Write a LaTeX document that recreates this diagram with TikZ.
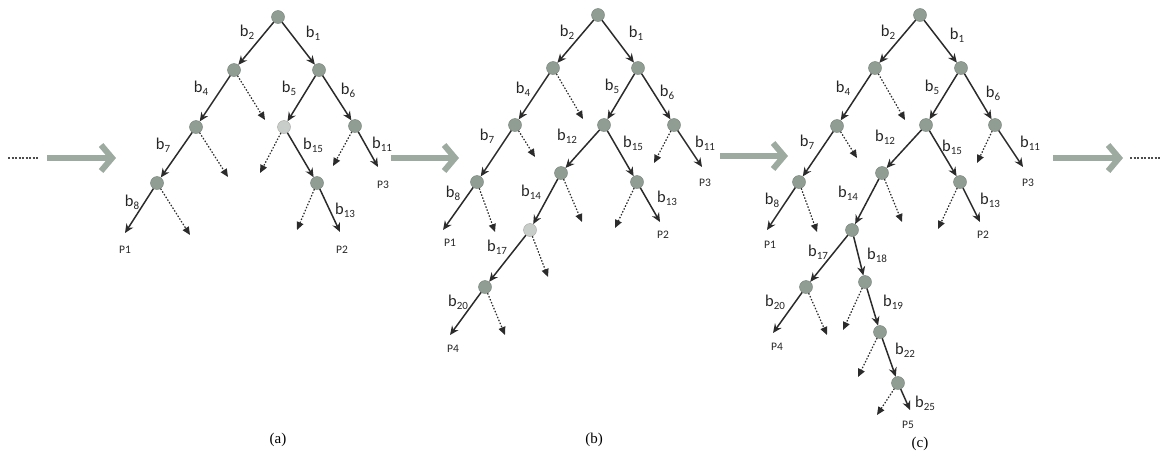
\documentclass[tikz,border=0pt]{standalone}
\usepackage{fontspec}
\setmainfont{Carlito}
\newfontfamily\capfont{Liberation Serif}
\usetikzlibrary{arrows.meta}
\definecolor{bigarr}{HTML}{9DAA9F}
\definecolor{ndfill}{HTML}{8F9D92}
\definecolor{ndlight}{HTML}{C9CDC9}
\definecolor{edgecol}{HTML}{2B2B2B}
\newcommand\bsub[1]{b\raisebox{-0.35ex}{\fontsize{11}{11}\selectfont #1}}
\newcommand\Nd[3]{\node[nd] (#1) at (#2,#3) {};}
\newcommand\Lb[4]{\node[lb] (#1) at (#2,#3) {\bsub{#4}};}
\tikzset{
 nd/.style={circle,fill=ndfill,draw=ndfill!80!black,line width=0.4pt,minimum size=13pt,inner sep=0pt},
 ndl/.style={nd,fill=ndlight,draw=ndlight!80!black},
 sol/.style={draw=edgecol,line width=1.5pt,-{Stealth[length=9pt,width=8pt]}},
 dotarr/.style={draw=edgecol,line width=1.2pt,dash pattern=on 1.5pt off 1.7pt,-{Triangle[length=8pt,width=7pt]}},
 lb/.style={font=\fontsize{16.5}{16.5}\selectfont,text=black!85,inner sep=0pt},
 pl/.style={font=\fontsize{11.5}{11.5}\selectfont,text=black!85,inner sep=0pt},
 captxt/.style={font=\capfont\fontsize{15}{15}\selectfont,inner sep=0pt},
 bigarrow/.style={draw=bigarr,line width=6pt,-{Straight Barb[length=11pt,width=26pt]}},
 bigdots/.style={draw=black!70,line width=2pt,dash pattern=on 2pt off 1.5pt}
}
\begin{document}
\begin{tikzpicture}[x=1pt,y=-1pt]
\useasboundingbox (0,0) rectangle (1161,461);
% ---------- big arrows ----------
\coordinate (d1s) at (8,158); \coordinate (d1e) at (38,158);
\coordinate (g1s) at (47,158); \coordinate (g1e) at (116,158);
\coordinate (g2s) at (391,158); \coordinate (g2e) at (459,158);
\coordinate (g3s) at (720,156); \coordinate (g3e) at (788,156);
\coordinate (g4s) at (1053,158); \coordinate (g4e) at (1123,158);
\coordinate (d2s) at (1130,158); \coordinate (d2e) at (1162,158);
\draw[bigdots] (d1s) -- (d1e);
\draw[bigdots] (d2s) -- (d2e);
\draw[bigarrow] (g1s) -- (g1e);
\draw[bigarrow] (g2s) -- (g2e);
\draw[bigarrow] (g3s) -- (g3e);
\draw[bigarrow] (g4s) -- (g4e);
% ---------- tree (a) ----------
\Nd{aR}{278}{17}
\Nd{aL}{234}{70}
\Nd{aRt}{319}{70}
\Nd{aB4}{196}{127}
\node[ndl] (aB5) at (284,127) {};
\Nd{aB6}{355}{126}
\Nd{aB7}{157}{183}
\Nd{aB15}{317}{183}
\coordinate (aLd) at (265,120);
\coordinate (aB4d) at (228,177);
\coordinate (aB5d) at (260,173);
\coordinate (aB6d) at (333,166);
\coordinate (aB7d) at (190,235);
\coordinate (aB15d) at (297,230);
\coordinate (aE11) at (378,167);
\coordinate (aE8) at (125,233);
\coordinate (aE13) at (340,232);
\draw[sol] (aR) -- (aL);
\draw[sol] (aR) -- (aRt);
\draw[sol] (aL) -- (aB4);
\draw[sol] (aRt) -- (aB5);
\draw[sol] (aRt) -- (aB6);
\draw[sol] (aB4) -- (aB7);
\draw[sol] (aB5) -- (aB15);
\draw[sol] (aB6) -- (aE11);
\draw[sol] (aB7) -- (aE8);
\draw[sol] (aB15) -- (aE13);
\draw[dotarr] (aL) -- (aLd);
\draw[dotarr] (aB4) -- (aB4d);
\draw[dotarr] (aB5) -- (aB5d);
\draw[dotarr] (aB6) -- (aB6d);
\draw[dotarr] (aB7) -- (aB7d);
\draw[dotarr] (aB15) -- (aB15d);
\Lb{al2}{247}{32}{2}
\Lb{al1}{313}{33}{1}
\Lb{al4}{201}{88}{4}
\Lb{al5}{289}{88}{5}
\Lb{al6}{348}{90}{6}
\Lb{al7}{163}{145}{7}
\Lb{al15}{313}{145}{15}
\Lb{al11}{382}{144}{11}
\Lb{al8}{132}{202}{8}
\Lb{al13}{345}{210}{13}
\node[pl] (aP3) at (383,185) {P3};
\node[pl] (aP1) at (125,250) {P1};
\node[pl] (aP2) at (342,250) {P2};
\node[captxt] (capa) at (278,440) {(a)};
% ---------- tree (b) ----------
\Nd{bR}{598}{15}
\Nd{bL}{553}{68}
\Nd{bRt}{638}{68}
\Nd{bB4}{515}{125}
\Nd{bB5}{604}{125}
\Nd{bB6}{674}{125}
\Nd{bB7}{477}{182}
\Nd{bB12}{561}{173}
\Nd{bB15}{637}{182}
\node[ndl] (bB14) at (530,230) {};
\Nd{bB17}{485}{287}
\coordinate (bLd) at (583,119);
\coordinate (bB4d) at (535,157);
\coordinate (bB6d) at (654,163);
\coordinate (bB7d) at (495,232);
\coordinate (bB12d) at (582,222);
\coordinate (bB15d) at (615,228);
\coordinate (bB14d) at (548,277);
\coordinate (bB17d) at (505,335);
\coordinate (bE11) at (702,167);
\coordinate (bE8) at (443,230);
\coordinate (bE13) at (660,222);
\coordinate (bE20) at (450,335);
\draw[sol] (bR) -- (bL);
\draw[sol] (bR) -- (bRt);
\draw[sol] (bL) -- (bB4);
\draw[sol] (bRt) -- (bB5);
\draw[sol] (bRt) -- (bB6);
\draw[sol] (bB4) -- (bB7);
\draw[sol] (bB5) -- (bB12);
\draw[sol] (bB5) -- (bB15);
\draw[sol] (bB12) -- (bB14);
\draw[sol] (bB14) -- (bB17);
\draw[sol] (bB6) -- (bE11);
\draw[sol] (bB7) -- (bE8);
\draw[sol] (bB15) -- (bE13);
\draw[sol] (bB17) -- (bE20);
\draw[dotarr] (bL) -- (bLd);
\draw[dotarr] (bB4) -- (bB4d);
\draw[dotarr] (bB6) -- (bB6d);
\draw[dotarr] (bB7) -- (bB7d);
\draw[dotarr] (bB12) -- (bB12d);
\draw[dotarr] (bB15) -- (bB15d);
\draw[dotarr] (bB14) -- (bB14d);
\draw[dotarr] (bB17) -- (bB17d);
\Lb{bl2}{567}{32}{2}
\Lb{bl1}{636}{33}{1}
\Lb{bl4}{523}{89}{4}
\Lb{bl5}{612}{86}{5}
\Lb{bl6}{667}{92}{6}
\Lb{bl7}{487}{136}{7}
\Lb{bl12}{567}{136}{12}
\Lb{bl15}{633}{143}{15}
\Lb{bl11}{705}{143}{11}
\Lb{bl8}{453}{193}{8}
\Lb{bl14}{531}{192}{14}
\Lb{bl13}{667}{198}{13}
\Lb{bl17}{497}{247}{17}
\Lb{bl20}{458}{302}{20}
\node[pl] (bP3) at (705,183) {P3};
\node[pl] (bP1) at (450,243) {P1};
\node[pl] (bP2) at (663,235) {P2};
\node[pl] (bP4) at (453,349) {P4};
\node[captxt] (capb) at (594,440) {(b)};
% ---------- tree (c) ----------
\Nd{cR}{920}{15}
\Nd{cL}{875}{68}
\Nd{cRt}{961}{68}
\Nd{cB4}{837}{126}
\Nd{cB5}{926}{125}
\Nd{cB6}{995}{125}
\Nd{cB7}{799}{182}
\Nd{cB12}{882}{173}
\Nd{cB15}{960}{182}
\Nd{cB14}{852}{230}
\Nd{cB17}{806}{287}
\Nd{cB18}{865}{282}
\Nd{cB19}{880}{332}
\Nd{cB22}{898}{383}
\coordinate (cLd) at (905,120);
\coordinate (cB4d) at (857,158);
\coordinate (cB6d) at (977,163);
\coordinate (cB7d) at (817,232);
\coordinate (cB12d) at (902,222);
\coordinate (cB15d) at (938,229);
\coordinate (cB17d) at (827,335);
\coordinate (cB18d) at (843,330);
\coordinate (cB19d) at (858,377);
\coordinate (cB22d) at (877,415);
\coordinate (cE11) at (1023,167);
\coordinate (cE8) at (767,230);
\coordinate (cE13) at (980,222);
\coordinate (cE20) at (773,333);
\coordinate (cE25) at (910,410);
\draw[sol] (cR) -- (cL);
\draw[sol] (cR) -- (cRt);
\draw[sol] (cL) -- (cB4);
\draw[sol] (cRt) -- (cB5);
\draw[sol] (cRt) -- (cB6);
\draw[sol] (cB4) -- (cB7);
\draw[sol] (cB5) -- (cB12);
\draw[sol] (cB5) -- (cB15);
\draw[sol] (cB12) -- (cB14);
\draw[sol] (cB14) -- (cB17);
\draw[sol] (cB14) -- (cB18);
\draw[sol] (cB18) -- (cB19);
\draw[sol] (cB19) -- (cB22);
\draw[sol] (cB6) -- (cE11);
\draw[sol] (cB7) -- (cE8);
\draw[sol] (cB15) -- (cE13);
\draw[sol] (cB17) -- (cE20);
\draw[sol] (cB22) -- (cE25);
\draw[dotarr] (cL) -- (cLd);
\draw[dotarr] (cB4) -- (cB4d);
\draw[dotarr] (cB6) -- (cB6d);
\draw[dotarr] (cB7) -- (cB7d);
\draw[dotarr] (cB12) -- (cB12d);
\draw[dotarr] (cB15) -- (cB15d);
\draw[dotarr] (cB17) -- (cB17d);
\draw[dotarr] (cB18) -- (cB18d);
\draw[dotarr] (cB19) -- (cB19d);
\draw[dotarr] (cB22) -- (cB22d);
\Lb{cl2}{888}{32}{2}
\Lb{cl1}{957}{35}{1}
\Lb{cl4}{843}{88}{4}
\Lb{cl5}{932}{87}{5}
\Lb{cl6}{993}{93}{6}
\Lb{cl7}{807}{142}{7}
\Lb{cl12}{885}{137}{12}
\Lb{cl15}{952}{147}{15}
\Lb{cl11}{1030}{143}{11}
\Lb{cl8}{772}{200}{8}
\Lb{cl14}{848}{193}{14}
\Lb{cl13}{990}{200}{13}
\Lb{cl17}{818}{252}{17}
\Lb{cl18}{877}{255}{18}
\Lb{cl20}{775}{302}{20}
\Lb{cl19}{893}{302}{19}
\Lb{cl22}{905}{350}{22}
\Lb{cl25}{925}{403}{25}
\node[pl] (cP3) at (1028,183) {P3};
\node[pl] (cP1) at (770,245) {P1};
\node[pl] (cP2) at (983,235) {P2};
\node[pl] (cP4) at (777,347) {P4};
\node[pl] (cP5) at (908,425) {P5};
\node[captxt] (capc) at (920,444) {(c)};
\end{tikzpicture}
\end{document}
